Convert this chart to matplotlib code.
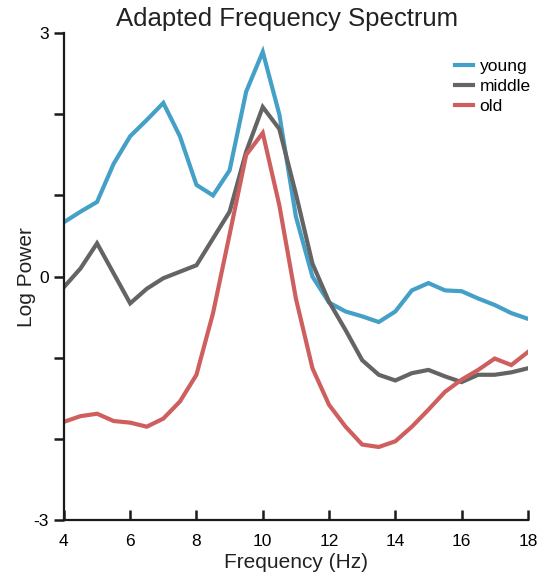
import matplotlib
matplotlib.use("Agg")
import matplotlib.pyplot as plt
import numpy as np

plt.rcParams['font.family'] = ['Liberation Sans', 'DejaVu Sans']

freq = [4.0, 4.5, 5.0, 5.5, 6.0, 6.5, 7.0, 7.5, 8.0, 8.5, 9.0, 9.5, 10.0, 10.5,
        11.0, 11.5, 12.0, 12.5, 13.0, 13.5, 14.0, 14.5, 15.0, 15.5, 16.0, 16.5,
        17.0, 17.5, 18.0]

young = [0.67, 0.80, 0.92, 1.39, 1.73, 1.93, 2.14, 1.73, 1.13, 1.00, 1.31, 2.28,
         2.77, 2.00, 0.74, 0.00, -0.32, -0.43, -0.49, -0.56, -0.43, -0.17, -0.08,
         -0.17, -0.18, -0.27, -0.35, -0.45, -0.52]

middle = [-0.13, 0.10, 0.41, 0.04, -0.33, -0.15, -0.02, 0.06, 0.14, 0.47, 0.80,
          1.54, 2.09, 1.82, 1.02, 0.16, -0.31, -0.66, -1.03, -1.21, -1.28, -1.19,
          -1.15, -1.23, -1.30, -1.21, -1.21, -1.18, -1.13]

old = [-1.79, -1.72, -1.69, -1.78, -1.80, -1.85, -1.75, -1.54, -1.21, -0.45, 0.52,
       1.50, 1.77, 0.88, -0.27, -1.13, -1.58, -1.85, -2.07, -2.10, -2.03, -1.85,
       -1.64, -1.42, -1.27, -1.15, -1.01, -1.09, -0.93]

labels = ['young', 'middle', 'old']
colors = ['#45a0c8', '#646464', '#cf5f5f']

fig = plt.figure(figsize=(5.37, 5.82), dpi=100)
ax = fig.add_axes([0.119, 0.1065, 0.864, 0.8365])

for vals, lab, col in zip([young, middle, old], labels, colors):
    ax.plot(freq, vals, color=col, lw=3.0, label=lab, solid_joinstyle='miter')

ax.set_xlim(4, 18)
ax.set_ylim(-3, 3)
ax.set_xticks([4, 6, 8, 10, 12, 14, 16, 18])
ax.set_yticks([-3, -2, -1, 0, 1, 2, 3])
ax.set_yticklabels(['-3', '', '', '0', '', '', '3'])

for s in ['top', 'right']:
    ax.spines[s].set_visible(False)
for s in ['left', 'bottom']:
    ax.spines[s].set_linewidth(1.6)
    ax.spines[s].set_color('#1a1a1a')

ax.tick_params(axis='y', direction='out', length=7, width=1.8, labelsize=12.5, pad=4, color='#1a1a1a')
ax.tick_params(axis='x', direction='in', length=7, width=1.8, labelsize=12.5, pad=10, color='#1a1a1a')

ax.set_xlabel('Frequency (Hz)', fontsize=15, labelpad=3, color='#222222')
ax.set_ylabel('Log Power', fontsize=15, labelpad=-2, color='#222222')
ax.set_title('Adapted Frequency Spectrum', fontsize=18.5, pad=5, color='#222222', x=0.48)

leg = ax.legend(loc='upper right', frameon=False, fontsize=12.5, handlelength=1.0,
                handletextpad=0.4, labelspacing=0.3, bbox_to_anchor=(1.04, 0.98))

fig.savefig('out.png', dpi=100)
